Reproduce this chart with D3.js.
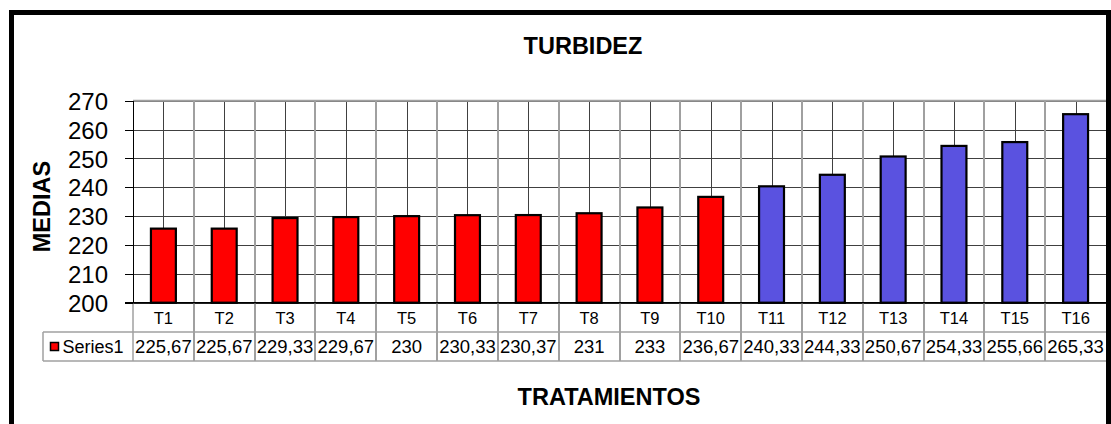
<!DOCTYPE html>
<head>
    <title>TURBIDEZ</title>
    <style>
        body {
            margin: 0;
            background: #ffffff;
        }

        .axis text {
            font-family: Arial, "Liberation Sans", sans-serif;
            font-size: 24px;
            fill: #000;
        }

        .axis path,
        .axis line {
            stroke: #000;
            shape-rendering: crispEdges;
        }

        .grid line {
            stroke: #404040;
            shape-rendering: crispEdges;
        }

        .grid path {
            display: none;
        }
    </style>
</head>

<body>
<script src="https://cdn.jsdelivr.net/npm/d3@7"></script>

<script type="text/javascript">
    // data
    var categories = ["T1", "T2", "T3", "T4", "T5", "T6", "T7", "T8",
        "T9", "T10", "T11", "T12", "T13", "T14", "T15", "T16"];
    var values = [225.67, 225.67, 229.33, 229.67, 230, 230.33, 230.37, 231,
        233, 236.67, 240.33, 244.33, 250.67, 254.33, 255.66, 265.33];
    // group of each treatment (1 = red, 2 = blue)
    var groups = [1, 1, 1, 1, 1, 1, 1, 1, 1, 1, 2, 2, 2, 2, 2, 2];
    var yTicks = [200, 210, 220, 230, 240, 250, 260, 270];
    var seriesName = "Series1";
    var title = "TURBIDEZ";
    var xTitle = "TRATAMIENTOS";
    var yTitle = "MEDIAS";

    // dimensions
    var frameWidth = 1111
    var frameHeight = 424
    var plotLeft = 133
    var plotRight = 1106
    var plotTop = 100.7
    var plotBottom = 302.7
    var row1 = 332      // bottom of the category row of the data table
    var row2 = 361      // bottom of the value row
    var tableLeft = 43
    var gridGray = "#a0a0a0"
    var font = "Arial, 'Liberation Sans', sans-serif"

    var color = d3.scaleOrdinal()
        .domain([1, 2])
        .range(["#ff0000", "#5a52e0"]);

    // decimal comma, as in the original table
    var locale = d3.formatLocale({decimal: ",", thousands: ".", grouping: [3], currency: ["", ""]});
    var fmt2 = locale.format(".2f");
    var fmtValue = function (v) {
        return Number.isInteger(v) ? String(v) : fmt2(v);
    }

    var x = d3.scaleBand()
        .domain(categories)
        .range([plotLeft, plotRight]);
    var y = d3.scaleLinear()
        .domain([200, 270])
        .range([plotBottom, plotTop]);

    var svg = d3.select("body")
        .append("svg")
        .attr("width", frameWidth)
        .attr("height", frameHeight);

    svg.append("rect")
        .attr("width", frameWidth)
        .attr("height", frameHeight)
        .attr("fill", "#fff");

    // horizontal gridlines
    svg.append("g")
        .attr("class", "grid")
        .attr("transform", "translate(" + plotLeft + ",0)")
        .call(d3.axisLeft(y).tickValues(yTicks).tickSize(-(plotRight - plotLeft)).tickFormat(""));

    // vertical lines at the middle of each category
    svg.append("g")
        .selectAll("line")
        .data(categories)
        .enter()
        .append("line")
        .attr("x1", function (d) { return Math.round(x(d) + x.bandwidth() / 2) + 0.5; })
        .attr("x2", function (d) { return Math.round(x(d) + x.bandwidth() / 2) + 0.5; })
        .attr("y1", plotTop)
        .attr("y2", plotBottom)
        .attr("stroke", "#404040")
        .attr("stroke-width", 1);

    // category borders, running down through the data table
    svg.append("g")
        .selectAll("line")
        .data(categories.slice(1))
        .enter()
        .append("line")
        .attr("x1", function (d) { return Math.round(x(d)); })
        .attr("x2", function (d) { return Math.round(x(d)); })
        .attr("y1", plotTop)
        .attr("y2", row2)
        .attr("stroke", gridGray)
        .attr("stroke-width", 2);

    // plot top border
    svg.append("line")
        .attr("x1", plotLeft).attr("x2", plotRight)
        .attr("y1", plotTop).attr("y2", plotTop)
        .attr("stroke", gridGray)
        .attr("stroke-width", 2);

    // table lines
    [row1, row2].forEach(function (r) {
        svg.append("line")
            .attr("x1", tableLeft).attr("x2", plotRight)
            .attr("y1", r).attr("y2", r)
            .attr("stroke", gridGray)
            .attr("stroke-width", 1.5);
    });
    svg.append("line")
        .attr("x1", tableLeft).attr("x2", tableLeft)
        .attr("y1", row1).attr("y2", row2)
        .attr("stroke", gridGray)
        .attr("stroke-width", 1.5);
    svg.append("line")
        .attr("x1", plotLeft).attr("x2", plotLeft)
        .attr("y1", plotBottom).attr("y2", row2)
        .attr("stroke", gridGray)
        .attr("stroke-width", 1.5);

    // bars
    var barW = x.bandwidth() * 0.41;
    svg.append("g")
        .selectAll("rect")
        .data(values)
        .enter()
        .append("rect")
        .attr("x", function (d, i) { return x(categories[i]) + x.bandwidth() / 2 - barW / 2; })
        .attr("y", function (d) { return y(d); })
        .attr("width", barW)
        .attr("height", function (d) { return plotBottom - y(d); })
        .attr("fill", function (d, i) { return color(groups[i]); })
        .attr("stroke", "#000")
        .attr("stroke-width", 2.2);

    // y axis
    svg.append("g")
        .attr("class", "axis")
        .attr("transform", "translate(" + plotLeft + ",0)")
        .call(d3.axisLeft(y).tickValues(yTicks).tickSize(8).tickSizeOuter(0).tickPadding(17))
        .selectAll("text")
        .attr("dy", "0.36em");

    // x axis line
    svg.append("line")
        .attr("x1", plotLeft - 8).attr("x2", plotRight)
        .attr("y1", plotBottom).attr("y2", plotBottom)
        .attr("stroke", "#000")
        .attr("stroke-width", 1.5);

    // data table: category row
    svg.append("g")
        .selectAll("text")
        .data(categories)
        .enter()
        .append("text")
        .attr("x", function (d) { return x(d) + x.bandwidth() / 2; })
        .attr("y", 324.3)
        .attr("text-anchor", "middle")
        .style("font-family", font)
        .style("font-size", "16.5px")
        .text(function (d) { return d; });

    // data table: value row
    svg.append("g")
        .selectAll("text")
        .data(values)
        .enter()
        .append("text")
        .attr("x", function (d, i) { return x(categories[i]) + x.bandwidth() / 2; })
        .attr("y", 353.3)
        .attr("text-anchor", "middle")
        .style("font-family", font)
        .style("font-size", "18.5px")
        .text(function (d) { return fmtValue(d); });

    // legend key in the table
    svg.append("rect")
        .attr("x", 50.5).attr("y", 342.5)
        .attr("width", 8).attr("height", 8)
        .attr("fill", color(groups[0]))
        .attr("stroke", "#000")
        .attr("stroke-width", 1.5);
    svg.append("text")
        .attr("x", 62.5)
        .attr("y", 353.3)
        .style("font-family", font)
        .style("font-size", "18px")
        .text(seriesName);

    // titles
    svg.append("text")
        .attr("x", 583)
        .attr("y", 54.3)
        .attr("text-anchor", "middle")
        .style("font-family", font)
        .style("font-size", "23.5px")
        .style("font-weight", "bold")
        .text(title);

    svg.append("text")
        .attr("x", 609)
        .attr("y", 405)
        .attr("text-anchor", "middle")
        .style("font-family", font)
        .style("font-size", "23.5px")
        .style("font-weight", "bold")
        .text(xTitle);

    svg.append("text")
        .attr("transform", "translate(50,206.5) rotate(-90)")
        .attr("text-anchor", "middle")
        .style("font-family", font)
        .style("font-size", "23.5px")
        .style("font-weight", "bold")
        .text(yTitle);

    // outer chart border
    svg.append("rect")
        .attr("x", 11.5)
        .attr("y", 12.5)
        .attr("width", 1097)
        .attr("height", 500)
        .attr("fill", "none")
        .attr("stroke", "#000")
        .attr("stroke-width", 5);
</script>

</body>
